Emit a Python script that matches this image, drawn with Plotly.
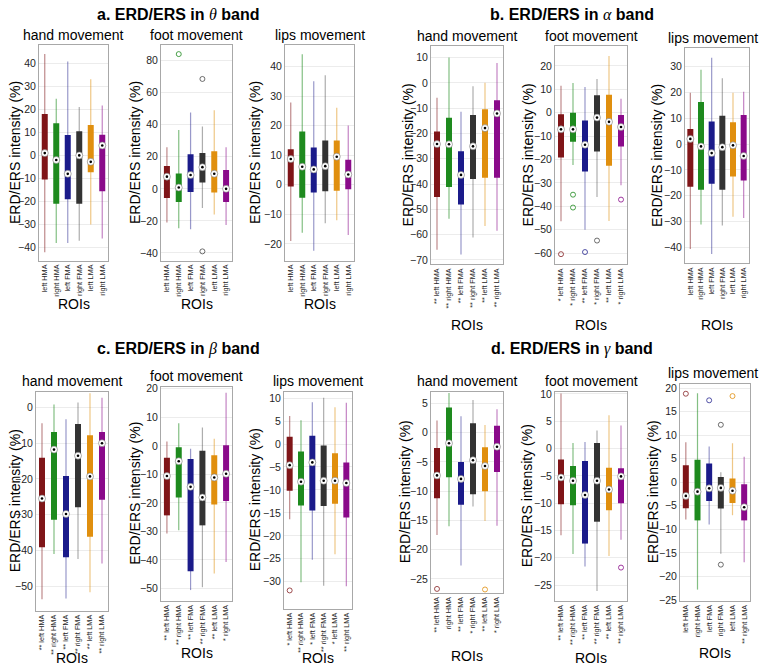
import plotly.graph_objects as go

ROIS = ["left HMA", "right HMA", "left FMA", "right FMA", "left LMA", "right LMA"]
COLORS = ["#7f1518", "#1e8a1e", "#1b1b8a", "#333333", "#e08f0e", "#8a0a8a"]
WHISK = ["rgba(127,21,24,0.5)", "rgba(30,138,30,0.55)", "rgba(27,27,138,0.45)",
         "rgba(51,51,51,0.4)", "rgba(224,143,14,0.5)", "rgba(138,10,138,0.5)"]
OUTC = ["rgba(127,21,24,0.75)", "rgba(30,138,30,0.8)", "rgba(27,27,138,0.75)",
        "rgba(51,51,51,0.7)", "rgba(224,143,14,0.8)", "rgba(138,10,138,0.8)"]

# ---------------- theta band ----------------
theta_hand_lo = [-42, -38, -38, -37, -30, -36]
theta_hand_q1 = [-10.5, -21, -19, -21, -7.3, -15.5]
theta_hand_med = [1, -2, -8, 0, -2.8, 4.3]
theta_hand_q3 = [18, 14, 8.8, 10.5, 13.2, 9]
theta_hand_hi = [44, 24.6, 40.7, 21, 33, 21.7]
theta_hand_out = [[], [], [], [], [], []]

theta_foot_lo = [-21, -24.6, -25.2, -12, -16, -22.6]
theta_foot_q1 = [-5.7, -8.2, -2, 3.9, -2.3, -8.2]
theta_foot_med = [7.6, 0.8, 8.6, 13.5, 9.4, 0]
theta_foot_q3 = [14.2, 9.6, 21.5, 22.4, 23.4, 11.7]
theta_foot_hi = [26, 36.7, 47.6, 38.8, 49, 26]
theta_foot_out = [[], [84], [], [68.5, -39], [], []]

theta_lips_lo = [-19, -16.2, -22.3, -13, -12, -17]
theta_lips_q1 = [-0.6, -4.4, -2.6, -2.2, -2, -1.5]
theta_lips_med = [8.7, 6.1, 5.2, 6.3, 9.5, 3.5]
theta_lips_q3 = [12, 18, 12.6, 15, 15, 8.5]
theta_lips_hi = [27.8, 44.1, 35, 37, 26, 20]
theta_lips_out = [[], [], [], [], [], []]

# ---------------- alpha band ----------------
alpha_hand_lo = [-66, -53.7, -67.9, -61.1, -56.6, -58.5]
alpha_hand_q1 = [-45.1, -41.2, -48.1, -38, -37.5, -37.5]
alpha_hand_med = [-24.2, -24.3, -36.4, -25.1, -17.9, -12.1]
alpha_hand_q3 = [-19.2, -13.8, -27, -12.7, -10.4, -6.9]
alpha_hand_hi = [-5.9, 10, -11.4, -1.3, 0, 7.8]
alpha_hand_out = [[], [], [], [], [], []]

alpha_foot_lo = [-46.3, -22.3, -50, -36, -46.2, -31]
alpha_foot_q1 = [-19.1, -12.4, -25.1, -16.6, -22.6, -14.4]
alpha_foot_med = [-7.1, -7.1, -13.7, -2.1, -3.9, -6.1]
alpha_foot_q3 = [-0.7, 0, -3.3, 7.4, 7.7, -1]
alpha_foot_hi = [11.5, 12.7, 11, 14.4, 24.2, 6]
alpha_foot_out = [[-60.4], [-35, -40.5], [-59.5], [-54.6], [], [-37.1]]

alpha_lips_lo = [-40.6, -31.1, -42.5, -31.5, -28.1, -28.6]
alpha_lips_q1 = [-16.5, -17.7, -15.4, -17.7, -12.6, -14.1]
alpha_lips_med = [2, -0.9, -3.5, -1.2, -0.5, -4.6]
alpha_lips_q3 = [5.8, 16.3, 8.7, 10.9, 8.4, 11.2]
alpha_lips_hi = [19.8, 28.7, 33.4, 25.5, 19.8, 20.2]
alpha_lips_out = [[], [], [], [], [], []]

# ---------------- beta band ----------------
beta_hand_lo = [-53.7, -41, -53.5, -42.4, -51.7, -43.7]
beta_hand_q1 = [-39.1, -31.4, -41.9, -27.9, -36.2, -25.8]
beta_hand_med = [-25.5, -11.8, -29.8, -13.5, -19.3, -10]
beta_hand_q3 = [-14.1, -6.9, -19.2, -4.6, -7.8, -6.9]
beta_hand_hi = [-4.4, 0.8, -3.3, 1.4, 4, 2.7]
beta_hand_out = [[], [], [], [], [], []]

beta_foot_lo = [-30.8, -29.6, -50.6, -49.6, -44.8, -40.8]
beta_foot_q1 = [-24.4, -18.1, -44, -27.9, -20.6, -19.4]
beta_foot_med = [-10.6, -5.4, -14.4, -18.1, -11.1, -9.8]
beta_foot_q3 = [-4.2, -0.5, -4.6, -1.7, -3.3, 0.2]
beta_foot_hi = [1.5, 7.9, -1, 6.4, 2.5, 18.6]
beta_foot_out = [[], [], [], [], [], []]

beta_lips_lo = [-16.4, -30.1, -25.2, -30.9, -24, -31]
beta_lips_q1 = [-10.2, -13.4, -14.5, -13.5, -13, -16]
beta_lips_med = [-4.6, -8.2, -4, -8, -8, -8.5]
beta_lips_q3 = [1.6, -1.6, 1.8, -0.3, -2, -4]
beta_lips_hi = [6.1, 5.2, 9.1, 10.1, 8, 9]
beta_lips_out = [[-31.9], [], [], [], [], []]

# ---------------- gamma band ----------------
gamma_hand_lo = [-17.5, -16, -22.7, -12.6, -15.1, -15.9]
gamma_hand_q1 = [-11.2, -7.6, -12.3, -10.5, -10, -6.7]
gamma_hand_med = [-7.3, -1.8, -7.9, -4.7, -5.7, -2.4]
gamma_hand_q3 = [-2.6, 4.3, -5, 1.6, -2.5, 1.2]
gamma_hand_hi = [2.1, 6.8, 2.8, 5.6, 1.3, 4]
gamma_hand_out = [[-26.7], [], [], [], [-26.8], []]

gamma_foot_lo = [-15.9, -19.3, -21.6, -26.1, -19.7, -16.7]
gamma_foot_q1 = [-10.2, -10.4, -17.4, -13.4, -11.3, -10]
gamma_foot_med = [-5.3, -5.9, -8.5, -5.9, -7.5, -5.1]
gamma_foot_q3 = [-2, -3.2, -2.3, 1, -3.5, -3.6]
gamma_foot_hi = [10.1, 1, 1.2, 3.3, 6.1, 4.2]
gamma_foot_out = [[], [], [], [], [], [-21.8]]

gamma_lips_lo = [-7.9, -22.8, -9, -15.2, -7, -17]
gamma_lips_q1 = [-5.5, -8.1, -4, -5.6, -4.4, -8.1]
gamma_lips_med = [-2.9, -2, -1.3, -1.2, -1.8, -5.3]
gamma_lips_q3 = [3.6, 4.8, 4, 1.1, 0.8, -0.4]
gamma_lips_hi = [8.5, 18.9, 7.6, 2.1, 8.3, 5.4]
gamma_lips_out = [[18.8], [], [17.4], [12.2, -17.5], [18.3], []]

# significance markers on the ROI tick labels
theta_hand_sig = ["", "", "", "", "", ""]
theta_foot_sig = ["", "", "", "", "", ""]
theta_lips_sig = ["", "", "", "", "", ""]
alpha_hand_sig = ["**", "**", "**", "**", "**", "**"]
alpha_foot_sig = ["*", "*", "**", "*", "**", "*"]
alpha_lips_sig = ["", "", "", "", "", ""]
beta_hand_sig = ["**", "**", "**", "**", "**", "**"]
beta_foot_sig = ["**", "**", "**", "**", "**", "*"]
beta_lips_sig = ["*", "**", "*", "**", "*", "**"]
gamma_hand_sig = ["**", "", "**", "*", "**", "*"]
gamma_foot_sig = ["**", "**", "**", "**", "**", "**"]
gamma_lips_sig = ["", "", "", "", "", "**"]

# y tick values
theta_hand_ticks = [-40, -30, -20, -10, 0, 10, 20, 30, 40]
theta_foot_ticks = [-40, -20, 0, 20, 40, 60, 80]
theta_lips_ticks = [-20, -10, 0, 10, 20, 30, 40]
alpha_hand_ticks = [-70, -60, -50, -40, -30, -20, -10, 0, 10]
alpha_foot_ticks = [-60, -50, -40, -30, -20, -10, 0, 10, 20]
alpha_lips_ticks = [-40, -30, -20, -10, 0, 10, 20, 30]
beta_hand_ticks = [-50, -40, -30, -20, -10, 0]
beta_foot_ticks = [-50, -40, -30, -20, -10, 0, 10, 20]
beta_lips_ticks = [-30, -25, -20, -15, -10, -5, 0, 5, 10]
gamma_hand_ticks = [-25, -20, -15, -10, -5, 0, 5]
gamma_foot_ticks = [-25, -20, -15, -10, -5, 0, 5, 10]
gamma_lips_ticks = [-25, -20, -15, -10, -5, 0, 5, 10, 15, 20]

G = globals()

# layout of subplots: key, subtitle, pixel frame (x0, x1, y0, y1), y range,
# y-title x, "ROIs" y, subtitle x
SUBPLOTS = [
    ("theta_hand", "hand movement", (39, 108, 42, 260), (-45.6, 47.7), 15, 304, 73),
    ("theta_foot", "foot movement", (161, 232, 42, 260), (-44.7, 89.4), 135, 304, 196),
    ("theta_lips", "lips movement", (285, 354, 42, 260), (-25.6, 47.1), 255, 304, 320),
    ("alpha_hand", "hand movement", (431, 503, 43, 264), (-71.8, 14.4), 408, 325, 467),
    ("alpha_foot", "foot movement", (555, 627, 43, 264), (-64.8, 28.3), 528, 325, 591),
    ("alpha_lips", "lips movement", (685, 749, 45, 263), (-46.2, 37.0), 657, 325, 713),
    ("beta_hand", "hand movement", (36, 108, 393, 615), (-56.9, 4.4), 15, 663, 72),
    ("beta_foot", "foot movement", (161, 232, 388, 605), (-54.4, 20.7), 135, 658, 196),
    ("beta_lips", "lips movement", (284, 352, 393, 613), (-35.9, 11.4), 255, 663, 318),
    ("gamma_hand", "hand movement", (431, 503, 393, 597), (-27.4, 7.0), 405, 661, 467),
    ("gamma_foot", "foot movement", (555, 627, 393, 605), (-27.9, 10.4), 527, 663, 591),
    ("gamma_lips", "lips movement", (680, 750, 385, 605), (-25.2, 20.9), 653, 658, 713),
]

W, H = 760, 672
FONT = "Liberation Sans, Arial, Helvetica, sans-serif"
TXT = "#262626"

fig = go.Figure()
layout = dict(width=W, height=H, margin=dict(l=0, r=0, t=0, b=0),
              paper_bgcolor="white", plot_bgcolor="white", showlegend=False,
              font=dict(family=FONT, color=TXT))
ann = []

for n, (key, sub, (x0, x1, y0, y1), yr, ytx, roiy, subx) in enumerate(SUBPLOTS, start=1):
    xs = "" if n == 1 else str(n)
    xref, yref = "x" + xs, "y" + xs
    lo, q1, med = G[key + "_lo"], G[key + "_q1"], G[key + "_med"]
    q3, hi, out = G[key + "_q3"], G[key + "_hi"], G[key + "_out"]
    sig = G[key + "_sig"]
    ticktext = [(s + " " + r) if s else r for s, r in zip(sig, ROIS)]

    layout["xaxis" + xs] = dict(
        domain=[x0 / W, x1 / W], anchor=yref, type="category",
        categoryorder="array", categoryarray=ROIS, range=[-0.5, 5.5],
        tickvals=ROIS, ticktext=ticktext, tickangle=-90,
        tickfont=dict(size=7.3, color=TXT, family=FONT),
        showline=True, mirror=True, linecolor="#a8a8a8", linewidth=1,
        showgrid=False, zeroline=False, ticks="", fixedrange=True)
    layout["yaxis" + xs] = dict(
        domain=[1 - y1 / H, 1 - y0 / H], anchor=xref, range=list(yr),
        tickvals=G[key + "_ticks"], tickfont=dict(size=10.5, color=TXT, family=FONT),
        showline=True, mirror=True, linecolor="#a8a8a8", linewidth=1,
        showgrid=True, gridcolor="#ececec", gridwidth=1, zeroline=False,
        ticks="", fixedrange=True)

    for j, roi in enumerate(ROIS):
        fig.add_trace(go.Scatter(x=[roi, roi], y=[lo[j], hi[j]], mode="lines",
                                 line=dict(color=WHISK[j], width=1.2),
                                 xaxis=xref, yaxis=yref, hoverinfo="skip"))
        fig.add_trace(go.Scatter(x=[roi, roi], y=[q1[j], q3[j]], mode="lines",
                                 line=dict(color=COLORS[j], width=6),
                                 xaxis=xref, yaxis=yref, hoverinfo="skip"))
        if out[j]:
            fig.add_trace(go.Scatter(x=[roi] * len(out[j]), y=out[j], mode="markers",
                                     marker=dict(symbol="circle-open", size=5,
                                                 color=OUTC[j], line=dict(width=1)),
                                     xaxis=xref, yaxis=yref, hoverinfo="skip"))
    fig.add_trace(go.Scatter(x=ROIS, y=med, mode="markers",
                             marker=dict(symbol="circle", size=7, color="white",
                                         line=dict(color="#777777", width=0.6)),
                             xaxis=xref, yaxis=yref, hoverinfo="skip"))
    fig.add_trace(go.Scatter(x=ROIS, y=med, mode="markers",
                             marker=dict(symbol="circle", size=2.6, color="black"),
                             xaxis=xref, yaxis=yref, hoverinfo="skip"))

    xc = (x0 + x1) / 2
    ann.append(dict(text=sub, x=subx / W, y=1 - (y0 - 11) / H, xref="paper", yref="paper",
                    showarrow=False, xanchor="center", yanchor="middle",
                    font=dict(size=14, color="black", family=FONT)))
    ann.append(dict(text="ERD/ERS intensity (%)", x=ytx / W, y=1 - ((y0 + y1) / 2) / H,
                    xref="paper", yref="paper", showarrow=False, textangle=-90,
                    xanchor="center", yanchor="middle",
                    font=dict(size=14, color="black", family=FONT)))
    ann.append(dict(text="ROIs", x=xc / W, y=1 - roiy / H, xref="paper", yref="paper",
                    showarrow=False, xanchor="center", yanchor="middle",
                    font=dict(size=14, color="black", family=FONT)))

GREEK = "font-family:Liberation Serif, DejaVu Serif, serif"
TITLES = [("a", "θ", 178, 11), ("b", "α", 572, 11), ("c", "β", 178, 350), ("d", "γ", 572, 350)]
for letter, g, xc, yc in TITLES:
    txt = ("<b>%s. ERD/ERS in </b><span style=\"%s\"><i>%s</i></span><b> band</b>"
           % (letter, GREEK, g))
    ann.append(dict(text=txt, x=xc / W, y=1 - yc / H, xref="paper", yref="paper",
                    showarrow=False, xanchor="center", yanchor="middle",
                    font=dict(size=16, color="black", family=FONT)))

layout["annotations"] = ann
fig.update_layout(**layout)
fig.write_html("out.html", config={"displayModeBar": False},
               post_script="document.body.style.margin='0';"
                           "document.documentElement.style.overflow='hidden';")
